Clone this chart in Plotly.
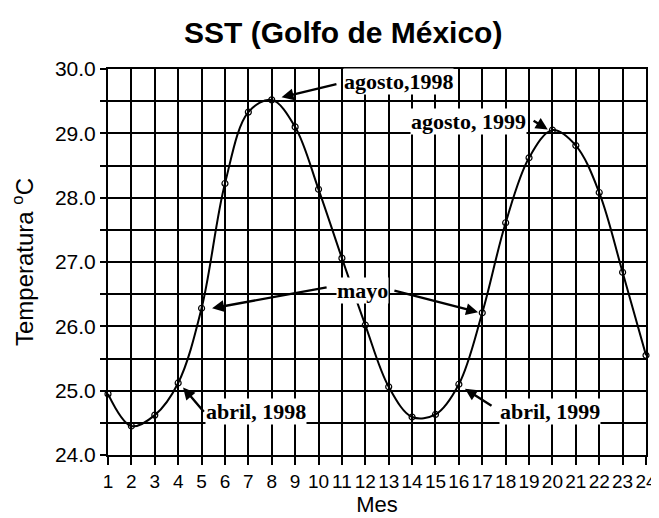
import plotly.graph_objects as go

# Monthly SST, Gulf of Mexico (Jan 1998 .. Dec 1999)
months = list(range(1, 25))
sst = [24.95, 24.45, 24.62, 25.12, 26.28, 28.22, 29.33, 29.52, 29.10, 28.13,
       27.06, 26.02, 25.06, 24.59, 24.63, 25.10, 26.21, 27.61, 28.62, 29.05,
       28.81, 28.08, 26.84, 25.55]

y_ticks = [24.0 + 0.5 * i for i in range(13)]
y_labels = [f"{v:.1f}" if v == int(v) else "" for v in y_ticks]

# (text, text x, text y, [(tail x, tail y, tip x, tip y), ...])
notes = [
    ("agosto,1998", 13.44, 29.80, [(10.83, 29.77, 8.42, 29.56)]),
    ("agosto, 1999", 16.43, 29.19, [(19.13, 29.21, 19.80, 29.06)]),
    ("mayo", 11.86, 26.56, [(10.41, 26.61, 5.45, 26.28), (13.18, 26.56, 16.82, 26.22)]),
    ("abril, 1998", 7.33, 24.68, [(5.15, 24.65, 4.21, 25.05)]),
    ("abril, 1999", 19.90, 24.68, [(17.46, 24.75, 16.26, 25.03)]),
]

fig = go.Figure(
    go.Scatter(
        x=months,
        y=sst,
        mode="lines+markers",
        line={"color": "black", "width": 2, "shape": "spline", "smoothing": 1.0},
        marker={"symbol": "circle-open", "size": 6, "color": "black", "line": {"width": 1.2}},
        cliponaxis=False,
        showlegend=False,
    )
)

annotations = []
for text, tx, ty, arrows in notes:
    annotations.append(dict(
        x=tx, y=ty, text=text, showarrow=False,
        font={"family": "Liberation Serif", "size": 22, "color": "black", "weight": "bold"},
        bgcolor="white", borderpad=0,
    ))
    for ax, ay, hx, hy in arrows:
        annotations.append(dict(
            x=hx, y=hy, ax=ax, ay=ay, axref="x", ayref="y", text="",
            showarrow=True, arrowhead=2, arrowsize=1, arrowwidth=2.4, arrowcolor="black",
        ))

# page body has an 8px margin, so the figure is shrunk by that much
fig.update_layout(
    width=651,
    height=510,
    margin={"l": 100, "r": 13, "t": 61, "b": 63},
    paper_bgcolor="white",
    plot_bgcolor="white",
    font={"family": "Liberation Sans", "color": "black"},
    title={
        "text": "<b>SST (Golfo de México)</b>",
        "x": 0.515, "xanchor": "center", "y": 0.951, "yanchor": "middle",
        "font": {"size": 30, "family": "Liberation Sans"},
    },
    annotations=annotations,
)
fig.update_xaxes(
    range=[1, 24],
    tickvals=months,
    ticktext=[str(m) for m in months],
    tickfont={"size": 19},
    showgrid=True, gridcolor="black", gridwidth=2,
    showline=True, linecolor="black", linewidth=2, mirror=True,
    ticks="outside", ticklen=8, tickcolor="black", tickwidth=2,
    zeroline=False, automargin=False,
    title={"text": "Mes", "font": {"size": 22}, "standoff": 0},
)
fig.update_yaxes(
    range=[24, 30],
    tickvals=y_ticks,
    ticktext=y_labels,
    tickfont={"size": 21},
    showgrid=True, gridcolor="black", gridwidth=2,
    showline=True, linecolor="black", linewidth=2, mirror=True,
    ticks="outside", ticklen=6, tickcolor="black", tickwidth=2,
    zeroline=False, automargin=False,
    title={"text": "Temperatura <sup>o</sup>C", "font": {"size": 24}, "standoff": 16},
)

fig.write_html("out.html")
